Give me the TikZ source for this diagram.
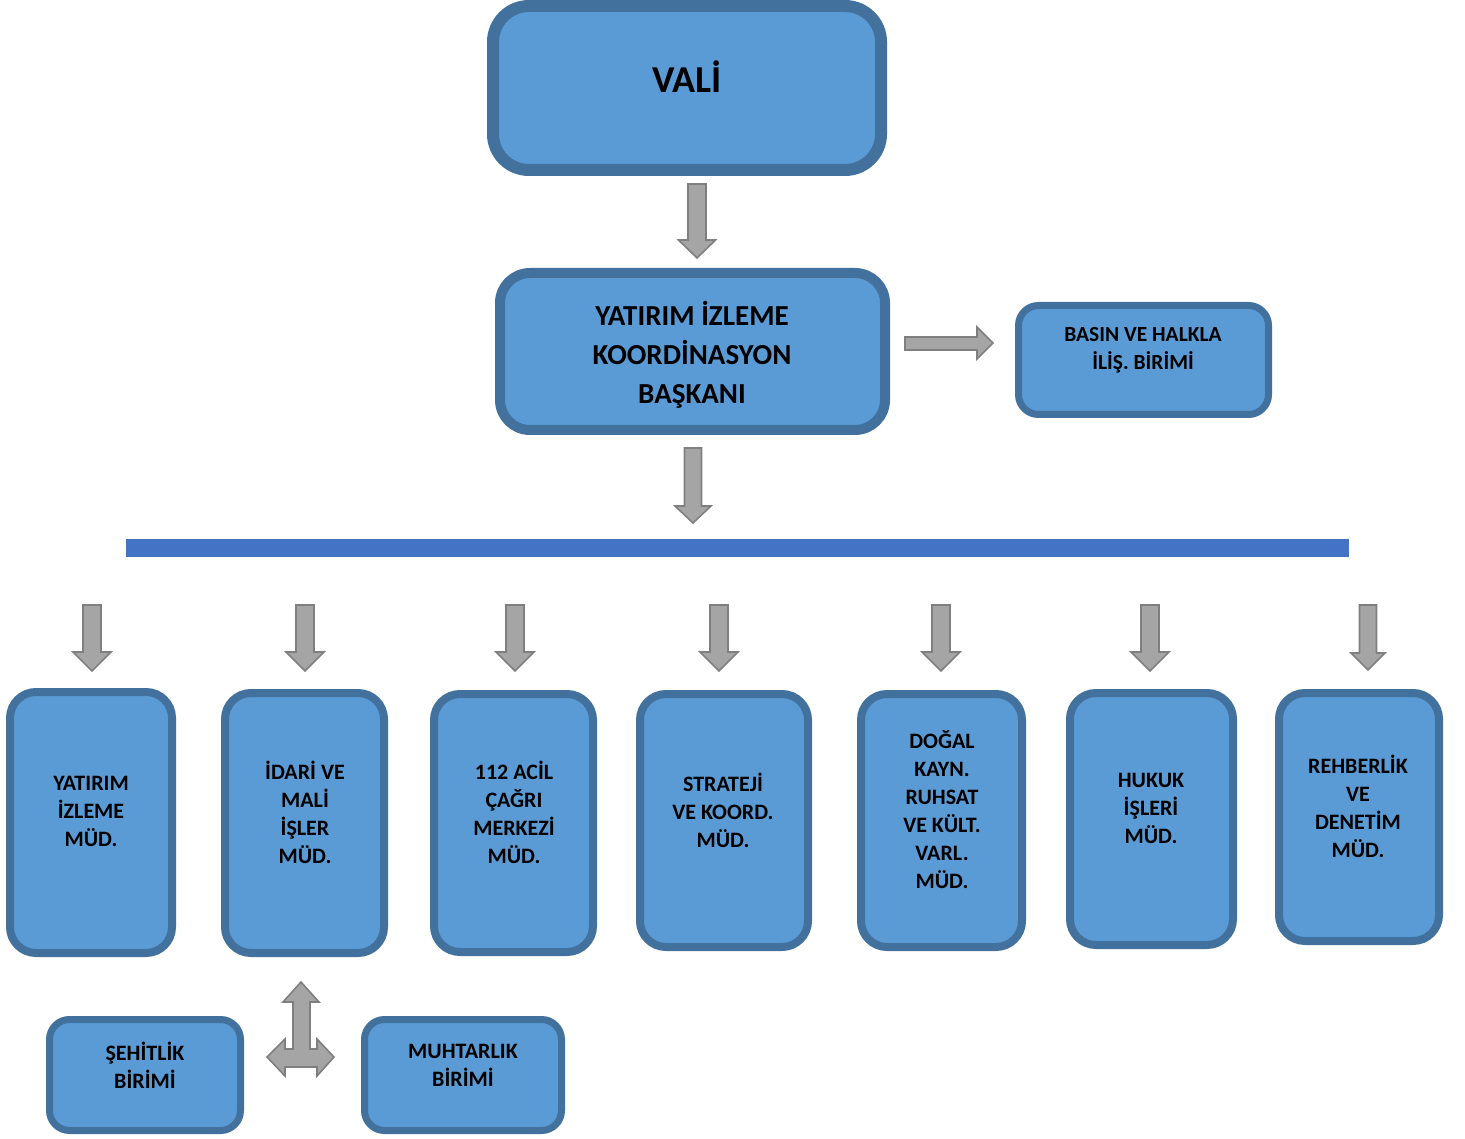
\documentclass[tikz,border=0pt]{standalone}
\usepackage{fontspec}
\setmainfont{Carlito}
\definecolor{boxfill}{HTML}{5B9BD5}
\definecolor{boxline}{HTML}{41719C}
\definecolor{blkfill}{HTML}{A5A5A5}
\definecolor{blkline}{HTML}{7F7F7F}
\definecolor{barc}{HTML}{4472C4}
\newcommand{\blkdown}[6]{%
  \draw[blk] ({#1-#4/2},#2) -- ({#1+#4/2},#2) -- ({#1+#4/2},{#3-#6}) -- ({#1+#5/2},{#3-#6}) -- (#1,#3) -- ({#1-#5/2},{#3-#6}) -- ({#1-#4/2},{#3-#6}) -- cycle;}
\begin{document}
\begin{tikzpicture}[x=1pt,y=-1pt,
  orgbox/.style={draw=boxline,fill=boxfill,rectangle,inner sep=0pt},
  blk/.style={draw=blkline,fill=blkfill,line width=1.6pt,line join=miter},
  txt/.style={align=center,inner sep=0pt,font=\bfseries\fontsize{22}{28}\selectfont},
  bigtxt/.style={align=center,inner sep=0pt,font=\bfseries\fontsize{29}{39}\selectfont}]
\useasboundingbox (0,0) rectangle (1465,1139);
% top boxes
\node[orgbox,line width=12pt,rounded corners=36pt,minimum width=388pt,minimum height=164pt] (vali) at (687,88) {};
\node[inner sep=0pt,font=\bfseries\fontsize{38}{42}\selectfont] (tvali) at (687,77) {VALİ};
\node[orgbox,line width=10pt,rounded corners=30pt,minimum width=385pt,minimum height=157pt] (yik) at (692.5,351.5) {};
\node[bigtxt] (tyik) at (692,355) {YATIRIM İZLEME\\KOORDİNASYON\\BAŞKANI};
\node[orgbox,line width=7pt,rounded corners=20pt,minimum width=250pt,minimum height=109pt] (basin) at (1143.5,360) {};
\node[txt,font=\bfseries\fontsize{21.5}{28}\selectfont] (tbasin) at (1143,350) {BASIN VE HALKLA\\İLİŞ. BİRİMİ};
% arrows top
\blkdown{697}{184}{258}{18}{37}{18}
\blkdown{693}{448}{523}{17}{36}{17}
\draw[blk] (905,337) -- (977,337) -- (977,327) -- (993,343) -- (977,359) -- (977,350) -- (905,350) -- cycle;
% bar
\node[fill=barc,inner sep=0pt,minimum width=1223pt,minimum height=18pt] (bar) at (737.5,548) {};
% bottom arrows
\blkdown{92}{605}{671}{18}{38}{19}
\blkdown{305}{605}{671}{18}{38}{19}
\blkdown{515}{605}{671}{18}{38}{19}
\blkdown{719}{605}{671}{18}{38}{19}
\blkdown{941}{605}{671}{18}{38}{19}
\blkdown{1150}{605}{671}{18}{38}{19}
\blkdown{1368}{605}{670}{17}{34}{17}
% bottom boxes
\tikzset{mbox/.style={orgbox,line width=8pt,rounded corners=26pt}}
\node[mbox,minimum width=162pt,minimum height=261pt] (m1) at (91,822.5) {};
\node[mbox,minimum width=159pt,minimum height=260pt] (m2) at (304.5,823) {};
\node[mbox,minimum width=159pt,minimum height=258pt] (m3) at (513.5,823) {};
\node[mbox,minimum width=168pt,minimum height=253pt] (m4) at (724,820.5) {};
\node[mbox,minimum width=161pt,minimum height=253pt] (m5) at (941.5,820.5) {};
\node[mbox,minimum width=163pt,minimum height=252pt] (m6) at (1151.5,819) {};
\node[mbox,minimum width=160pt,minimum height=248pt] (m7) at (1359,817) {};
\node[txt] (t1) at (91,811) {YATIRIM\\İZLEME\\MÜD.};
\node[txt] (t2) at (305,812) {İDARİ VE\\MALİ\\İŞLER\\MÜD.};
\node[txt] (t3) at (514,812) {112 ACİL\\ÇAĞRI\\MERKEZİ\\MÜD.};
\node[txt] (t4) at (723,810) {STRATEJİ\\VE KOORD.\\MÜD.};
\node[txt] (t5) at (942,810) {DOĞAL\\KAYN.\\RUHSAT\\VE KÜLT.\\VARL.\\MÜD.};
\node[txt] (t6) at (1151,808) {HUKUK\\İŞLERİ\\MÜD.};
\node[txt] (t7) at (1358,806) {REHBERLİK\\VE\\DENETİM\\MÜD.};
% small boxes
\node[orgbox,line width=7pt,rounded corners=20pt,minimum width=191pt,minimum height=111pt] (sehit) at (145,1075) {};
\node[txt] (tsehit) at (145,1065) {ŞEHİTLİK\\BİRİMİ};
\node[orgbox,line width=7pt,rounded corners=20pt,minimum width=197pt,minimum height=111pt] (muhtar) at (463,1075) {};
\node[txt] (tmuhtar) at (463,1065) {MUHTARLIK\\BİRİMİ};
% three-way arrow
\draw[blk] (301,982) -- (319,1002) -- (310,1002) -- (310,1049) -- (317,1049) -- (317,1039) -- (334,1057) -- (317,1076) -- (317,1067) -- (285,1067) -- (285,1076) -- (267,1057) -- (285,1039) -- (285,1049) -- (293,1049) -- (293,1002) -- (283,1002) -- cycle;
\end{tikzpicture}
\end{document}
